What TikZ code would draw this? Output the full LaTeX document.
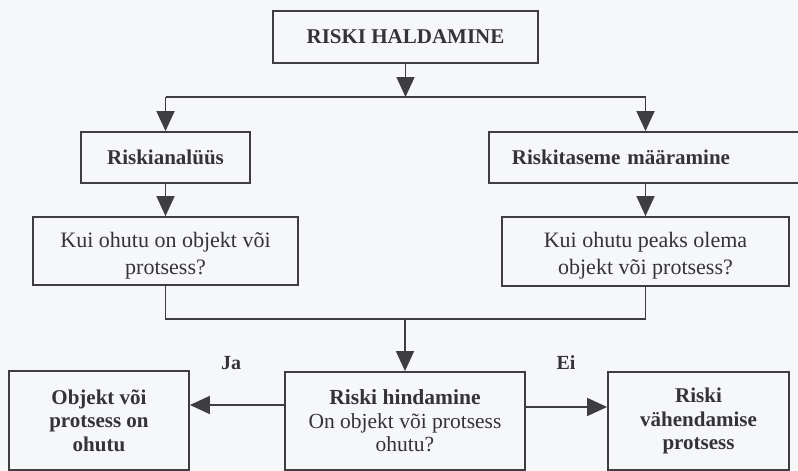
\documentclass[tikz,border=0pt]{standalone}
\usepackage{fontspec}
\setmainfont{Liberation Serif}
\usetikzlibrary{arrows.meta}
\definecolor{bgc}{HTML}{F6F7F9}
\definecolor{linec}{HTML}{3E3E42}
\definecolor{textc}{HTML}{333338}
\begin{document}
\begin{tikzpicture}[x=1pt,y=-1pt,
  box/.style={draw=linec, line width=1.8pt, text=textc, inner sep=0pt, align=center},
  boldtxt/.style={font=\fontsize{21}{23.5}\selectfont\bfseries},
  regtxt/.style={text=textc, align=center, inner sep=0pt, font=\fontsize{22}{27}\selectfont},
  midtxt/.style={font=\fontsize{21.5}{23.5}\selectfont},
  conn/.style={draw=linec, line width=1.6pt},
  arr/.style={conn, -{Triangle[length=20pt, width=18pt]}},
  lbl/.style={text=textc, font=\fontsize{20}{22}\selectfont\bfseries}]
\fill[bgc] (0,0) rectangle (798,471);
\useasboundingbox (0,0) rectangle (798,471);
\clip (0,0) rectangle (798,471);

\node[box, boldtxt, minimum width=265pt, minimum height=52pt] (top) at (405.5,37) {RISKI HALDAMINE};
\node[box, boldtxt, minimum width=169pt, minimum height=51pt] (ra) at (165.5,157.5) {Riskianalüüs};
\node[box, boldtxt, anchor=west, minimum height=51pt, text width=296pt, inner xsep=23pt, align=left] (rt) at (488,157.5) {Riskitaseme määramine};

\node[box, minimum width=265pt, minimum height=68pt] (k1) at (165.5,251) {};
\node[regtxt] (k1t) at (165.5,256) {Kui ohutu on objekt või\\protsess?};
\node[box, minimum width=287pt, minimum height=69pt] (k2) at (645.5,251.5) {};
\node[regtxt] (k2t) at (645.5,256) {Kui ohutu peaks olema\\objekt või protsess?};

\node[box, boldtxt, minimum width=180pt, minimum height=99pt] (bl) at (99,420.5) {Objekt või\\protsess on\\ohutu};
\node[box, midtxt, minimum width=240pt, minimum height=98pt] (mid) at (405,421) {\textbf{Riski hindamine}\\On objekt või protsess\\ohutu?};
\node[box, boldtxt, minimum width=181pt, minimum height=98pt] (br) at (698.5,421) {Riski\\vähendamise\\protsess};

\coordinate (jL) at (165.5,97);
\coordinate (jM) at (405.5,97);
\coordinate (jR) at (645.5,97);
\coordinate (jB) at (405,319);

\draw[arr] (top.south) -- (jM);
\draw[conn] (jL) -- (jR);
\draw[arr] (jL) -- (ra.north);
\draw[arr] (jR) -- (jR |- rt.north);
\draw[arr] (ra.south) -- (k1.north);
\draw[arr] (jR |- rt.south) -- (k2.north);

\draw[conn] (k1.south) -- (k1.south |- jB) -- (k2.south |- jB) -- (k2.south);
\draw[arr] (jB) -- (mid.north);

\draw[arr] ([yshift=16pt]mid.west) -- ([yshift=16pt]mid.west -| bl.east);
\draw[arr] ([yshift=14pt]mid.east) -- ([yshift=14pt]mid.east -| br.west);

\node[lbl] (ja) at (231,363) {Ja};
\node[lbl] (ei) at (566,363) {Ei};
\end{tikzpicture}
\end{document}
